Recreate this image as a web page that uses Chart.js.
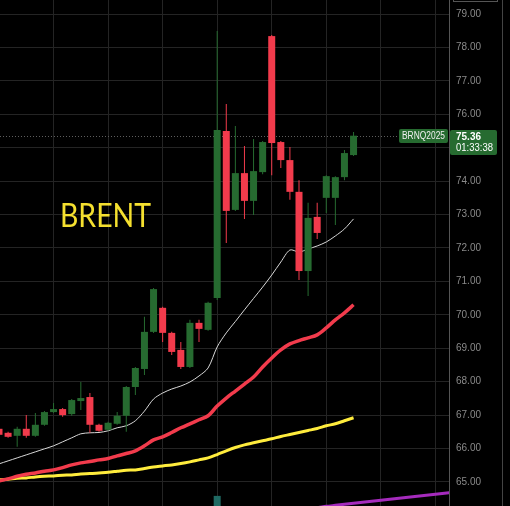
<!DOCTYPE html>
<html>
<head>
<meta charset="utf-8">
<style>
html, body { margin: 0; padding: 0; background: #000; overflow: hidden; }
#wrap { width: 510px; height: 506px; position: relative; }
</style>
<script src="https://cdn.jsdelivr.net/npm/chart.js@4.4.1/dist/chart.umd.min.js"></script>
</head>
<body>
<div id="wrap"><canvas id="myChart"></canvas></div>
<script>
"use strict";

// daily candles, oldest first
const opens = [66.59, 66.47, 66.38, 66.59, 66.38, 66.71, 67.09, 67.18, 67.03, 67.42,
    67.54, 66.71, 66.56, 66.74, 66.98, 67.84, 68.38, 69.49, 70.21, 69.46,
    68.95, 68.44, 69.76, 69.55, 70.50, 75.50, 73.14, 74.24, 73.41, 74.27,
    78.34, 75.17, 74.63, 73.68, 71.31, 72.93, 73.50, 73.50, 74.12, 74.78];
const highs = [66.65, 66.50, 66.65, 67.00, 67.06, 67.12, 67.36, 67.21, 67.48, 67.99,
    67.66, 66.74, 66.80, 67.09, 67.87, 68.44, 69.94, 70.80, 70.24, 69.49,
    69.19, 69.85, 69.85, 70.39, 78.49, 76.31, 75.65, 75.05, 75.26, 75.20,
    78.37, 75.20, 75.02, 74.03, 73.35, 73.35, 74.18, 74.15, 74.93, 75.47];
const lows = [66.35, 66.32, 66.05, 66.32, 66.35, 66.68, 67.06, 66.95, 66.98, 67.15,
    66.47, 66.50, 66.53, 66.71, 66.50, 67.60, 68.20, 69.46, 69.19, 68.80,
    68.38, 68.41, 69.19, 69.52, 70.44, 72.15, 73.11, 72.87, 72.99, 74.21,
    74.18, 74.39, 73.44, 71.04, 70.56, 72.27, 73.05, 72.69, 74.03, 74.75];
const closes = [66.41, 66.35, 66.59, 66.38, 66.71, 67.09, 67.18, 67.00, 67.45, 67.51,
    66.71, 66.53, 66.77, 66.98, 67.84, 68.41, 69.49, 70.77, 69.46, 68.89,
    68.44, 69.76, 69.58, 70.36, 75.53, 73.11, 74.24, 73.41, 74.30, 75.17,
    75.14, 74.63, 73.68, 71.31, 72.90, 72.45, 74.15, 74.12, 74.84, 75.36];

// moving averages
const maWhite = [65.54, 65.63, 65.72, 65.81, 65.90, 65.99, 66.08, 66.20, 66.32, 66.44,
    66.47, 66.48, 66.53, 66.62, 66.68, 66.83, 67.12, 67.48, 67.66, 67.78,
    67.87, 67.99, 68.17, 68.41, 69.04, 69.46, 69.80, 70.15, 70.49, 70.83,
    71.19, 71.58, 71.94, 71.88, 71.97, 72.06, 72.18, 72.36, 72.57, 72.87];
const maRed = [65.03, 65.09, 65.17, 65.23, 65.27, 65.32, 65.36, 65.43, 65.51, 65.57,
    65.61, 65.66, 65.70, 65.78, 65.85, 65.93, 66.08, 66.26, 66.35, 66.48,
    66.62, 66.74, 66.86, 66.98, 67.27, 67.51, 67.72, 67.93, 68.14, 68.44,
    68.71, 68.95, 69.13, 69.23, 69.31, 69.40, 69.61, 69.85, 70.06, 70.30];
const maYellow = [65.06, 65.08, 65.11, 65.12, 65.15, 65.17, 65.18, 65.20, 65.21, 65.24,
    65.25, 65.27, 65.29, 65.32, 65.35, 65.36, 65.40, 65.45, 65.48, 65.51,
    65.55, 65.60, 65.66, 65.72, 65.82, 65.93, 66.03, 66.11, 66.17, 66.23,
    66.29, 66.36, 66.42, 66.48, 66.54, 66.60, 66.68, 66.74, 66.83, 66.92];
// purple one runs on into the empty space on the right
const maPurple = [null, null, null, null, null, null, null, null, null, null,
    null, null, null, null, null, null, null, null, null, null,
    null, null, null, null, null, null, null, null, null, null,
    null, null, null, null, 64.20, 64.23, 64.27, 64.30, 64.33, 64.36,
    64.39, 64.42, 64.45, 64.48, 64.51, 64.54, 64.57, 64.60, 64.63, 64.66, 64.69];
// only the big day's volume bar pokes up into view
const volume = [null, null, null, null, null, null, null, null, null, null,
    null, null, null, null, null, null, null, null, null, null,
    null, null, null, null, 2.0, null, null, null, null, null,
    null, null, null, null, null, null, null, null, null, null];

const priceTicks = [65, 66, 67, 68, 69, 70, 71, 72, 73, 74, 75, 76, 77, 78, 79];
const titleText = 'BRENT';
const symbolText = 'BRNQ2025';
const countdownText = '01:33:38';

const green = '#266b30';
const red = '#f23b4c';

function pts(arr) {
    const out = [];
    arr.forEach(function(v, i) {
        if (v !== null) out.push({ x: i, y: v });
    });
    return out;
}

function candleColor(c) {
    const i = c.dataIndex;
    return closes[i] >= opens[i] ? green : red;
}

function noPad(s) {
    s.paddingTop = 0;
    s.paddingBottom = 0;
    s.paddingLeft = 0;
    s.paddingRight = 0;
}

const bodies = opens.map(function(o, i) { return { x: i, y: [o, closes[i]] }; });
const wicks = lows.map(function(l, i) { return { x: i, y: [l, highs[i]] }; });

const overlay = {
    id: 'overlay',
    beforeDatasetsDraw(chart) {
        const c = chart.ctx;
        const area = chart.chartArea;
        const py = Math.round(chart.scales.y.getPixelForValue(closes[closes.length - 1])) + 0.5;
        c.save();
        c.strokeStyle = '#5e5e5e';
        c.lineWidth = 1;
        c.setLineDash([1, 2]);
        c.beginPath();
        c.moveTo(area.left, py);
        c.lineTo(area.right, py);
        c.stroke();
        c.restore();

        c.save();
        c.font = '33px Lato, "Open Sans", sans-serif';
        c.fillStyle = '#f5e02f';
        c.textBaseline = 'alphabetic';
        c.fillText(titleText, 60, 227, 91);
        c.restore();
    },
    afterDraw(chart) {
        const c = chart.ctx;
        const area = chart.chartArea;
        const last = closes[closes.length - 1];
        const py = Math.round(chart.scales.y.getPixelForValue(last));
        c.save();
        // right edge of the price scale
        c.strokeStyle = '#444';
        c.lineWidth = 1;
        c.beginPath();
        c.moveTo(502.5, 0);
        c.lineTo(502.5, chart.height);
        c.stroke();
        c.strokeStyle = '#555';
        c.strokeRect(453.5, -10, 44, 11.5);

        // symbol tag
        c.fillStyle = green;
        c.beginPath();
        c.roundRect(area.right - 50, py - 7, 49, 14, 2);
        c.fill();
        c.fillStyle = '#f0f0f0';
        c.font = '10px "Liberation Sans", Arial, sans-serif';
        c.textBaseline = 'middle';
        c.textAlign = 'left';
        c.fillText(symbolText, area.right - 47, py + 0.5, 43);

        // last price box
        c.fillStyle = green;
        c.beginPath();
        c.roundRect(area.right + 1, py - 6, 47, 25, 2);
        c.fill();
        c.fillStyle = '#ffffff';
        c.font = 'bold 10.5px "Liberation Sans", Arial, sans-serif';
        c.fillText(last.toFixed(2), 456, py + 1, 25);
        c.font = '10px "Liberation Sans", Arial, sans-serif';
        c.fillText(countdownText, 456, py + 12, 37);
        c.restore();
    }
};

const ctx = document.getElementById('myChart');
var myChart = new Chart(ctx, {
    type: 'bar',
    data: {
        datasets: [{
                label: 'body',
                data: bodies,
                backgroundColor: candleColor,
                barThickness: 7,
                grouped: false,
                inflateAmount: 0,
                order: 0
            },
            {
                label: 'wick',
                data: wicks,
                backgroundColor: candleColor,
                barThickness: 1,
                grouped: false,
                inflateAmount: 0,
                order: 1
            },
            {
                type: 'line',
                label: 'MA white',
                data: pts(maWhite),
                borderColor: '#d8d8d8',
                borderWidth: 1,
                pointRadius: 0,
                tension: 0.3,
                order: 2
            },
            {
                type: 'line',
                label: 'MA red',
                data: pts(maRed),
                borderColor: '#f23b4c',
                borderWidth: 3.5,
                pointRadius: 0,
                tension: 0.3,
                order: 3
            },
            {
                type: 'line',
                label: 'MA yellow',
                data: pts(maYellow),
                borderColor: '#ffec3d',
                borderWidth: 3,
                pointRadius: 0,
                tension: 0.3,
                order: 4
            },
            {
                type: 'line',
                label: 'MA purple',
                data: pts(maPurple),
                borderColor: '#a52bbd',
                borderWidth: 3,
                pointRadius: 0,
                tension: 0.3,
                order: 5
            },
            {
                label: 'volume',
                data: pts(volume),
                yAxisID: 'yv',
                backgroundColor: '#1f6a63',
                barThickness: 7,
                grouped: false,
                inflateAmount: 0,
                order: 6
            }
        ]
    },
    options: {
        responsive: true,
        maintainAspectRatio: false,
        animation: false,
        layout: { padding: 0 },
        plugins: {
            legend: { display: false },
            tooltip: { enabled: false }
        },
        scales: {
            x: {
                type: 'linear',
                offset: false,
                min: 0.11,
                max: 49.5,
                grid: { color: '#242424', drawTicks: false, offset: false },
                border: { display: false },
                ticks: { display: false, stepSize: 6, includeBounds: false },
                afterFit: function(s) { s.height = 0; noPad(s); }
            },
            y: {
                position: 'right',
                min: 64.28,
                max: 79.42,
                afterBuildTicks: function(s) {
                    s.ticks = priceTicks.map(function(v) { return { value: v }; });
                },
                ticks: {
                    color: '#8a8a8a',
                    padding: 7,
                    font: { family: '"Liberation Sans", Arial, sans-serif', size: 10 },
                    callback: function(v) { return Number(v).toFixed(2); }
                },
                grid: { color: '#242424', drawTicks: false },
                border: { display: true, color: '#555555' },
                afterFit: function(s) { s.width = 61; noPad(s); }
            },
            yv: {
                display: false,
                min: 0,
                max: 100
            }
        }
    },
    plugins: [overlay]
});
</script>
</body>
</html>
